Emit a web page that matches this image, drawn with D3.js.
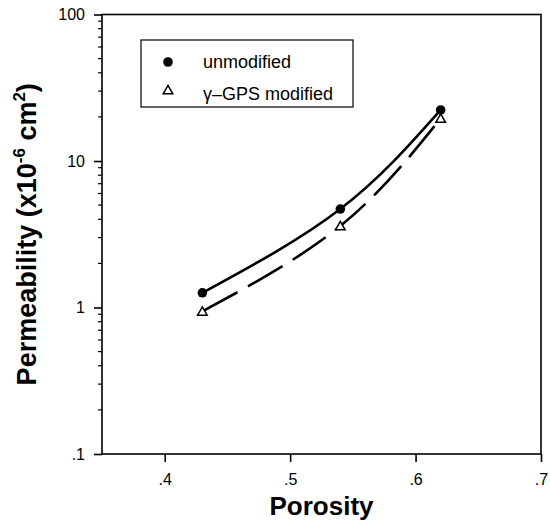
<!DOCTYPE html>
<html>
<head>
<meta charset="utf-8">
<script src="https://cdn.jsdelivr.net/npm/d3@7"></script>
<style>
  body { margin: 0; background: #fff; }
  text { font-family: "Liberation Sans", Arial, sans-serif; fill: #000; }
</style>
</head>
<body>
<script>
"use strict"

// values
const porosity     = [0.43, 0.54, 0.62]
const unmodified   = [1.26, 4.7, 22.3]
const gpsModified  = [0.94, 3.6, 19.5]
const xTicks       = [0.4, 0.5, 0.6, 0.7]
const yTicks       = [0.1, 1, 10, 100]
const yTickLabels  = [".1", "1", "10", "100"]
const seriesNames  = ["unmodified", "γ–GPS modified"]

const width  = 550
const height = 531
const margin = { top : 14.5, right : 9, bottom : 77, left : 102 }

const x = d3.scaleLinear().domain([0.35, 0.7]).range([margin.left, width - margin.right])
const y = d3.scaleLog().domain([0.1, 100]).range([height - margin.bottom, margin.top])

const svg = d3.select("body").append("svg")
  .attr("width", width)
  .attr("height", height)

// frame
svg.append("rect")
  .attr("x", x.range()[0])
  .attr("y", y.range()[1])
  .attr("width", x.range()[1] - x.range()[0])
  .attr("height", y.range()[0] - y.range()[1])
  .attr("fill", "none")
  .attr("stroke", "#000")
  .attr("stroke-width", 1.6)

// x axis
const xAxis = svg.append("g")
  .attr("transform", `translate(0 ${y.range()[0]})`)
  .call(d3.axisBottom(x).tickValues(xTicks).tickSize(8).tickSizeOuter(0)
    .tickFormat(d => d3.format(".1f")(d).replace(/^0/, "")))
xAxis.select(".domain").remove()
xAxis.selectAll(".tick line").attr("stroke-width", 1.6)
xAxis.selectAll(".tick text")
  .attr("y", 20)
  .attr("font-size", 16)
  .attr("font-family", "Liberation Sans, Arial, sans-serif")

// y axis, major
const yAxis = svg.append("g")
  .attr("transform", `translate(${x.range()[0]} 0)`)
  .call(d3.axisLeft(y).tickValues(yTicks).tickSize(8).tickSizeOuter(0)
    .tickFormat((d, i) => yTickLabels[i]))
yAxis.select(".domain").remove()
yAxis.selectAll(".tick line").attr("stroke-width", 1.6)
yAxis.selectAll(".tick text")
  .attr("x", -17)
  .attr("font-size", 16)
  .attr("font-family", "Liberation Sans, Arial, sans-serif")

// y axis, minor
const minor = y.ticks().filter(v => !yTicks.some(t => Math.abs(t - v) < 1e-9))
svg.append("g").selectAll("line").data(minor).enter().append("line")
  .attr("x1", x.range()[0] - 4)
  .attr("x2", x.range()[0])
  .attr("y1", d => y(d))
  .attr("y2", d => y(d))
  .attr("stroke", "#000")
  .attr("stroke-width", 1.2)

// axis titles
svg.append("text")
  .attr("x", (x.range()[0] + x.range()[1]) / 2)
  .attr("y", 515)
  .attr("text-anchor", "middle")
  .attr("font-size", 26)
  .attr("font-weight", "bold")
  .text("Porosity")

const yTitle = svg.append("text")
  .attr("transform", `translate(36 ${(y.range()[0] + y.range()[1]) / 2}) rotate(-90)`)
  .attr("text-anchor", "middle")
  .attr("font-size", 27)
  .attr("font-weight", "bold")
yTitle.append("tspan").text("Permeability (x10")
yTitle.append("tspan").attr("dy", -11).attr("font-size", 17).text("-6")
yTitle.append("tspan").attr("dy", 11).text(" cm")
yTitle.append("tspan").attr("dy", -11).attr("font-size", 17).text("2")
yTitle.append("tspan").attr("dy", 11).text(")")

// curves
const line = d3.line().x(d => x(d[0])).y(d => y(d[1])).curve(d3.curveNatural)
const solidPts  = d3.zip(porosity, unmodified)
const dashedPts = d3.zip(porosity, gpsModified)

svg.append("path")
  .attr("d", line(solidPts))
  .attr("fill", "none")
  .attr("stroke", "#000")
  .attr("stroke-width", 2.6)

svg.append("path")
  .attr("d", line(dashedPts))
  .attr("fill", "none")
  .attr("stroke", "#000")
  .attr("stroke-width", 2.6)
  .attr("stroke-dasharray", "40 12")

// markers
const triangle = d3.symbol().type(d3.symbolTriangle).size(40)

svg.append("g").selectAll("circle").data(solidPts).enter().append("circle")
  .attr("cx", d => x(d[0]))
  .attr("cy", d => y(d[1]))
  .attr("r", 4.8)
  .attr("fill", "#000")

svg.append("g").selectAll("path").data(dashedPts).enter().append("path")
  .attr("d", triangle)
  .attr("transform", d => `translate(${x(d[0])} ${y(d[1]) + 1})`)
  .attr("fill", "#fff")
  .attr("stroke", "#000")
  .attr("stroke-width", 1.5)

// legend
const legend = svg.append("g").attr("transform", "translate(141 40)")
legend.append("rect")
  .attr("width", 212)
  .attr("height", 67)
  .attr("fill", "#fff")
  .attr("stroke", "#000")
  .attr("stroke-width", 1.2)

legend.append("circle").attr("cx", 27).attr("cy", 22).attr("r", 4.8).attr("fill", "#000")
legend.append("path")
  .attr("d", triangle)
  .attr("transform", "translate(27 51)")
  .attr("fill", "#fff")
  .attr("stroke", "#000")
  .attr("stroke-width", 1.5)

legend.selectAll(".label").data(seriesNames).enter().append("text")
  .attr("class", "label")
  .attr("x", 62)
  .attr("y", (d, i) => 28 + i * 32)
  .attr("font-size", 18)
  .text(d => d)
</script>
</body>
</html>
